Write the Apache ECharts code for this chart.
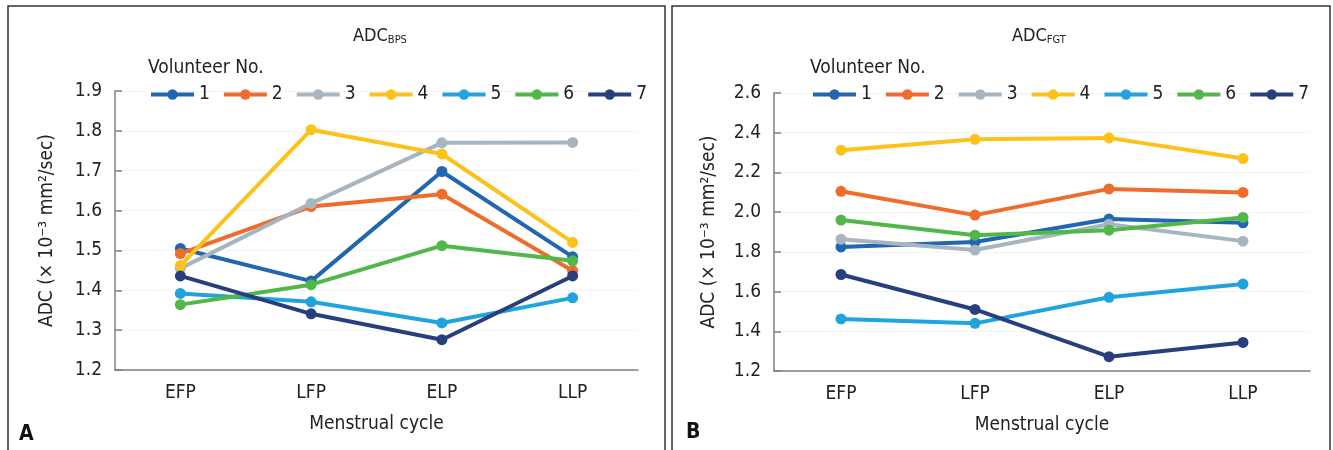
<!DOCTYPE html>
<html>
<head>
<meta charset="utf-8">
<script src="https://cdn.jsdelivr.net/npm/echarts@6/dist/echarts.min.js"></script>
<style>
html,body{margin:0;padding:0;background:#fff;}
#chart{width:1333px;height:450px;}
</style>
</head>
<body>
<div id="chart"></div>
<script>
var categories = ['EFP', 'LFP', 'ELP', 'LLP'];
var volunteers = ['1', '2', '3', '4', '5', '6', '7'];
var colors = ['#2066b1', '#ef6c2b', '#a7b5c0', '#fdc21a', '#21a4dd', '#50b748', '#283f7d'];

// Panel A: ADC BPS
var bps1 = [1.505, 1.423, 1.698, 1.484];
var bps2 = [1.492, 1.610, 1.641, 1.449];
var bps3 = [1.455, 1.618, 1.770, 1.771];
var bps4 = [1.462, 1.803, 1.742, 1.520];
var bps5 = [1.392, 1.371, 1.318, 1.381];
var bps6 = [1.364, 1.414, 1.512, 1.474];
var bps7 = [1.436, 1.341, 1.276, 1.436];

// Panel B: ADC FGT
var fgt1 = [1.825, 1.850, 1.965, 1.946];
var fgt2 = [2.105, 1.985, 2.117, 2.099];
var fgt3 = [1.864, 1.809, 1.939, 1.854];
var fgt4 = [2.312, 2.367, 2.374, 2.270];
var fgt5 = [1.462, 1.440, 1.571, 1.638];
var fgt6 = [1.960, 1.884, 1.909, 1.973];
var fgt7 = [1.686, 1.510, 1.272, 1.344];

var bpsTicks = [1.2, 1.9, 0.1];
var fgtTicks = [1.2, 2.6, 0.2];

var bpsData = [bps1, bps2, bps3, bps4, bps5, bps6, bps7];
var fgtData = [fgt1, fgt2, fgt3, fgt4, fgt5, fgt6, fgt7];

var FONT = '"DejaVu Sans Condensed", "Liberation Sans", Arial, sans-serif';
var TXT = '#222';

var chart = echarts.init(document.getElementById('chart'), null, {renderer: 'canvas'});

function mkSeries(data, idx) {
  return data.map(function (vals, i) {
    return {
      name: volunteers[i],
      type: 'line',
      xAxisIndex: idx, yAxisIndex: idx,
      data: vals,
      symbol: 'circle', symbolSize: 11,
      lineStyle: {width: 4, color: colors[i]},
      itemStyle: {color: colors[i]},
      z: 2 + i
    };
  });
}

function xAxis(idx) {
  return {
    type: 'category', gridIndex: idx, data: categories, boundaryGap: true,
    axisLine: {lineStyle: {color: '#808080', width: 1.5}},
    axisTick: {show: false},
    axisLabel: {color: TXT, fontFamily: FONT, fontSize: 19, margin: 14},
    name: 'Menstrual cycle', nameLocation: 'middle', nameGap: 45,
    nameTextStyle: {color: TXT, fontFamily: FONT, fontSize: 19}
  };
}
function yAxis(idx, t, gap) {
  return {
    type: 'value', gridIndex: idx, min: t[0], max: t[1], interval: t[2],
    axisLine: {show: true, lineStyle: {color: '#808080', width: 1.5}},
    axisTick: {show: true, inside: true, length: 7, lineStyle: {color: '#808080', width: 1.5}},
    splitLine: {show: true, lineStyle: {color: '#f3f3f3', width: 1}},
    axisLabel: {color: TXT, fontFamily: FONT, fontSize: 19, margin: 13,
      formatter: function (v) { return v.toFixed(1); }},
    name: 'ADC (× 10⁻³ mm²/sec)', nameLocation: 'middle', nameGap: gap, nameRotate: 90,
    nameTextStyle: {color: TXT, fontFamily: FONT, fontSize: 19}
  };
}
function legend(left) {
  return {
    data: volunteers, left: left, top: 85, orient: 'horizontal', padding: 0,
    itemWidth: 43, itemHeight: 13, itemGap: 12,
    lineStyle: {width: 4},
    textStyle: {color: TXT, fontFamily: FONT, fontSize: 19},
    selectedMode: false
  };
}
function titleText(sub, left) {
  return {
    text: '{a|ADC}{b|' + sub + '}', left: left, top: 27, padding: 0,
    textStyle: {fontWeight: 'normal', rich: {
      a: {fontFamily: FONT, fontSize: 18, color: TXT, fontWeight: 'normal'},
      b: {fontFamily: FONT, fontSize: 11, color: TXT, fontWeight: 'normal', verticalAlign: 'bottom', padding: [8, 0, 0, 0]}
    }}
  };
}

var option = {
  animation: false,
  backgroundColor: '#fff',
  title: [
    titleText('BPS', 353),
    titleText('FGT', 1012),
    {text: 'Volunteer No.', left: 148, top: 59, padding: 0, textStyle: {fontFamily: FONT, fontSize: 19, fontWeight: 'normal', color: TXT}},
    {text: 'Volunteer No.', left: 810, top: 59, padding: 0, textStyle: {fontFamily: FONT, fontSize: 19, fontWeight: 'normal', color: TXT}},
    {text: 'A', left: 19, top: 424, padding: 0, textStyle: {fontFamily: FONT, fontSize: 21, fontWeight: 'bold', color: '#111'}},
    {text: 'B', left: 686, top: 422, padding: 0, textStyle: {fontFamily: FONT, fontSize: 21, fontWeight: 'bold', color: '#111'}}
  ],
  legend: [legend(149), legend(811)],
  grid: [
    {left: 115, top: 91, width: 523, height: 279},
    {left: 774, top: 93, width: 536, height: 278}
  ],
  xAxis: [xAxis(0), xAxis(1)],
  yAxis: [yAxis(0, bpsTicks, 58), yAxis(1, fgtTicks, 55)],
  series: mkSeries(bpsData, 0).concat(mkSeries(fgtData, 1)),
  graphic: [
    {type: 'polyline', shape: {points: [[8, 460], [8, 6], [665, 6], [665, 460]]}, style: {stroke: '#333', lineWidth: 1.5, fill: null}, silent: true},
    {type: 'polyline', shape: {points: [[672, 460], [672, 6], [1330, 6], [1330, 460]]}, style: {stroke: '#333', lineWidth: 1.5, fill: null}, silent: true}
  ]
};
chart.setOption(option);
</script>
</body>
</html>
